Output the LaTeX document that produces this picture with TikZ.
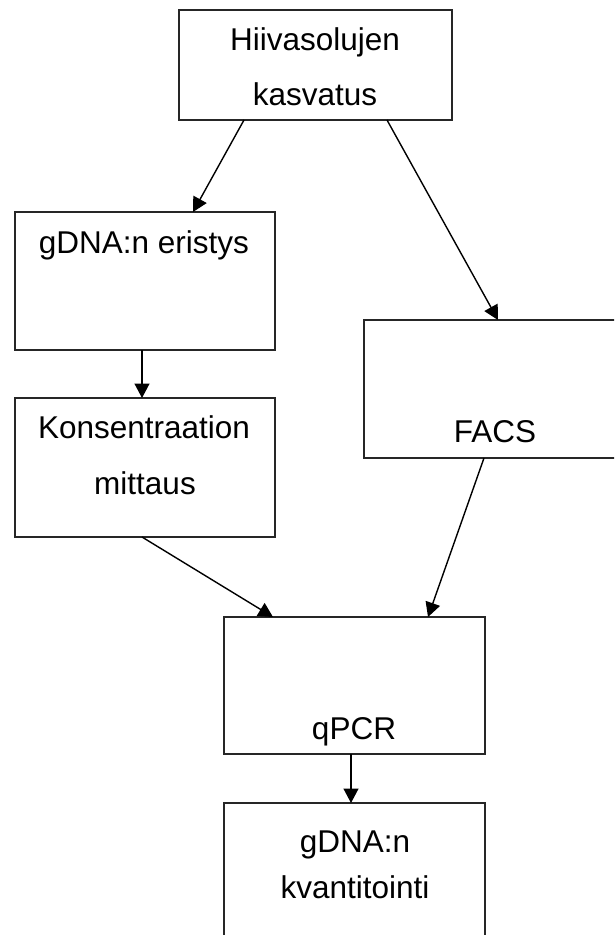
\documentclass[tikz,border=0pt]{standalone}
\usepackage{fontspec}
\setmainfont{Liberation Sans}
\usetikzlibrary{arrows.meta}
\begin{document}
\begin{tikzpicture}[x=1pt,y=-1pt,
  box/.style={draw=black!85,line width=1.1pt,rectangle,inner sep=0pt,outer sep=0pt},
  lbl/.style={anchor=base,inner sep=0pt,font=\fontsize{31.5}{31.5}\selectfont},
  conn/.style={draw=black,line width=1.4pt,-{Triangle[length=14.5pt,width=15pt]}}]
\useasboundingbox (0,0) rectangle (614,935);
\clip (0,0) rectangle (614,935);
% boxes
\node[box,minimum width=273pt,minimum height=110pt] (top) at (315.5,65) {};
\node[box,minimum width=260pt,minimum height=138pt] (eri) at (145,281) {};
\node[box,minimum width=261pt,minimum height=138pt] (facs) at (494.5,389) {};
\node[box,minimum width=260pt,minimum height=139pt] (kons) at (145,467.5) {};
\node[box,minimum width=261pt,minimum height=137pt] (qpcr) at (354.5,685.5) {};
\node[box,minimum width=261pt,minimum height=138pt] (kvant) at (354.5,872) {};
% texts
\node[lbl] (t1) at (315,50) {Hiivasolujen};
\node[lbl] (t2) at (315,105) {kasvatus};
\node[lbl] (t3) at (144,253) {gDNA:n eristys};
\node[lbl] (t4) at (495,442) {FACS};
\node[lbl] (t5) at (144,438) {Konsentraation};
\node[lbl] (t6) at (145,494) {mittaus};
\node[lbl] (t7) at (354,739) {qPCR};
\node[lbl] (t8) at (355,852) {gDNA:n};
\node[lbl] (t9) at (355,898) {kvantitointi};
% connectors
\draw[conn] ([xshift=65pt]top.south west) -- ([xshift=178pt]eri.north west);
\draw[conn] ([xshift=208pt]top.south west) -- ([xshift=134pt]facs.north west);
\draw[conn] ([xshift=127pt]eri.south west) -- ([xshift=127pt]kons.north west);
\draw[conn] ([xshift=127pt]kons.south west) -- ([xshift=49pt]qpcr.north west);
\draw[conn] ([xshift=120pt]facs.south west) -- ([xshift=204pt]qpcr.north west);
\draw[conn] ([xshift=127pt]qpcr.south west) -- ([xshift=127pt]kvant.north west);
\end{tikzpicture}
\end{document}
